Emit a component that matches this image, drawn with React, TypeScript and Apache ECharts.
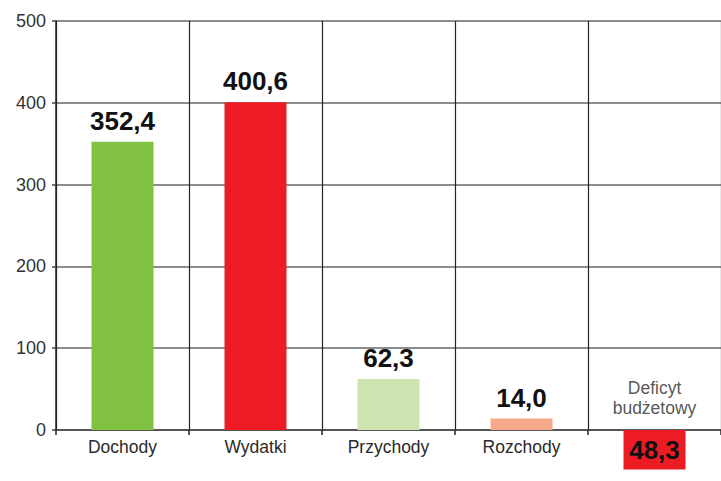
import React, { useEffect, useRef } from "react";
import * as echarts from "echarts";

const categories = ["Dochody", "Wydatki", "Przychody", "Rozchody", "Deficyt"];
const values = [352.4, 400.6, 62.3, 14.0, -48.3];
const barColors = ["#80c142", "#ed1c24", "#cde3b0", "#f7a98b", "#ed1c24"];
const valueLabels = ["352,4", "400,6", "62,3", "14,0", "48,3"];
const deficitTitle = "Deficyt\nbudżetowy";
const yTicks = [0, 100, 200, 300, 400, 500];

export default function App() {
  const ref = useRef<HTMLDivElement>(null);
  useEffect(() => {
    if (!ref.current) return;
    const chart = echarts.init(ref.current, null, { renderer: "svg" });
    const font = "'Liberation Sans', Arial, sans-serif";
    chart.setOption({
      animation: false,
      grid: { left: 56, right: -10, top: 21, bottom: 51, containLabel: false },
      xAxis: {
        type: "category",
        data: categories,
        boundaryGap: true,
        axisLine: { show: true, lineStyle: { color: "#444", width: 1.5 } },
        axisTick: { show: true, length: 5, interval: 0, lineStyle: { color: "#222", width: 1.5 } },
        axisLabel: {
          interval: 0,
          margin: 8,
          fontSize: 17.5,
          color: "#2a2a2a",
          fontFamily: font,
          formatter: (v: string, i: number) => (i === 4 ? "" : v),
        },
        splitLine: { show: true, interval: 0, lineStyle: { color: "#222", width: 1.2 } },
      },
      yAxis: {
        type: "value",
        min: yTicks[0],
        max: yTicks[yTicks.length - 1],
        interval: 100,
        axisLine: { show: true, lineStyle: { color: "#222", width: 1.5 } },
        axisTick: { show: true, length: 4, lineStyle: { color: "#444", width: 1.5 } },
        axisLabel: { fontSize: 18, color: "#333", margin: 10, fontFamily: font },
        splitLine: { show: true, lineStyle: { color: "#666", width: 1.5 } },
      },
      series: [
        {
          type: "bar",
          barWidth: 62,
          clip: false,
          z: 3,
          data: values.map((v, i) => ({
            value: v,
            itemStyle: { color: barColors[i] },
            label: {
              show: true,
              position: i === 4 ? "inside" : "top",
              distance: 8,
              formatter: valueLabels[i],
              fontSize: 26,
              fontWeight: "bold",
              color: "#111",
              fontFamily: font,
            },
          })),
        },
        {
          type: "scatter",
          symbolSize: 0,
          silent: true,
          data: [[4, 0]],
          label: {
            show: true,
            position: "top",
            distance: 12,
            formatter: deficitTitle,
            fontSize: 17.5,
            lineHeight: 20,
            color: "#2a2a2a",
            fontFamily: font,
            align: "center",
          },
        },
      ],
    });
    return () => chart.dispose();
  }, []);
  return <div ref={ref} style={{ width: 721, height: 481, position: "absolute", left: 0, top: 0 }} />;
}
